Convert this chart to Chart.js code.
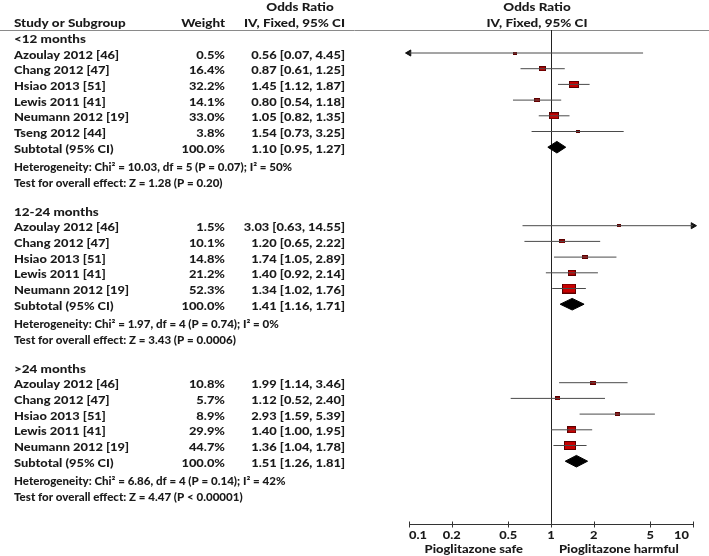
<!DOCTYPE html>
<html lang="en">
<head>
<meta charset="UTF-8">
<title>Pioglitazone forest plot</title>
<script src="https://cdn.jsdelivr.net/npm/chart.js@4"></script>
<style>
  html, body { margin: 0; padding: 0; background: #fff; }
  #wrap { width: 709px; height: 556px; }
</style>
</head>
<body>
<div id="wrap"><canvas id="forest" width="709" height="556"></canvas></div>
<script>
// Sous-groupes (durée d'exposition)
const groupNames = ['<12 months', '12-24 months', '>24 months'];
const groupSizes = [6, 5, 5];

// Études, dans l'ordre des sous-groupes
const studyLabels = [
  'Azoulay 2012 [46]', 'Chang 2012 [47]', 'Hsiao 2013 [51]', 'Lewis 2011 [41]', 'Neumann 2012 [19]', 'Tseng 2012 [44]',
  'Azoulay 2012 [46]', 'Chang 2012 [47]', 'Hsiao 2013 [51]', 'Lewis 2011 [41]', 'Neumann 2012 [19]',
  'Azoulay 2012 [46]', 'Chang 2012 [47]', 'Hsiao 2013 [51]', 'Lewis 2011 [41]', 'Neumann 2012 [19]'
];
const studyWeight = [0.5, 16.4, 32.2, 14.1, 33.0, 3.8, 1.5, 10.1, 14.8, 21.2, 52.3, 10.8, 5.7, 8.9, 29.9, 44.7];
const studyOR   = [0.56, 0.87, 1.45, 0.80, 1.05, 1.54, 3.03, 1.20, 1.74, 1.40, 1.34, 1.99, 1.12, 2.93, 1.40, 1.36];
const studyLow  = [0.07, 0.61, 1.12, 0.54, 0.82, 0.73, 0.63, 0.65, 1.05, 0.92, 1.02, 1.14, 0.52, 1.59, 1.00, 1.04];
const studyHigh = [4.45, 1.25, 1.87, 1.18, 1.35, 3.25, 14.55, 2.22, 2.89, 2.14, 1.76, 3.46, 2.40, 5.39, 1.95, 1.78];

// Sous-totaux
const subtotalOR   = [1.10, 1.41, 1.51];
const subtotalLow  = [0.95, 1.16, 1.26];
const subtotalHigh = [1.27, 1.71, 1.81];
const heterogeneity = [
  'Chi² = 10.03, df = 5 (P = 0.07); I² = 50%',
  'Chi² = 1.97, df = 4 (P = 0.74); I² = 0%',
  'Chi² = 6.86, df = 4 (P = 0.14); I² = 42%'
];
const overallEffect = ['Z = 1.28 (P = 0.20)', 'Z = 3.43 (P = 0.0006)', 'Z = 4.47 (P < 0.00001)'];

// Axe
const xTicks = [0.1, 0.2, 0.5, 1, 2, 5, 10];
const xTickLabels = ['0.1', '0.2', '0.5', '1', '2', '5', '10'];
const favoursLeft = 'Pioglitazone safe';
const favoursRight = 'Pioglitazone harmful';

const FONT = '"Lato", "DejaVu Sans", sans-serif';
const WEIGHT = '900';
const TEXT = '#1a1a1a';
const STRETCH = 1.17; // le texte de la figure d'origine est étiré en largeur
const xMin = xTicks[0];
const xMax = xTicks[xTicks.length - 1];

// Calcul des lignes (une unité = une ligne du tableau)
const rows = [];
let r = -1;
let s = 0;
groupNames.forEach((name, g) => {
  rows.push({ kind: 'group', row: r, text: name });
  for (let i = 0; i < groupSizes[g]; i++) {
    r += 1;
    rows.push({ kind: 'study', row: r, idx: s });
    s += 1;
  }
  r += 1;
  rows.push({ kind: 'subtotal', row: r, g });
  rows.push({ kind: 'het', row: r + 1.2, g });
  rows.push({ kind: 'test', row: r + 2.2, g });
  r += 4;
});

const studyRows = rows.filter((o) => o.kind === 'study');
const subtotalRows = rows.filter((o) => o.kind === 'subtotal');

// Intervalles de confiance (segments séparés par des trous)
const ciData = [];
studyRows.forEach((o) => {
  ciData.push({ x: studyLow[o.idx], y: o.row });
  ciData.push({ x: studyHigh[o.idx], y: o.row });
  ciData.push({ x: null, y: null });
});

const squareData = studyRows.map((o) => ({ x: studyOR[o.idx], y: o.row, w: studyWeight[o.idx] }));

// Flèches quand l'intervalle dépasse l'axe
const arrowData = [];
studyRows.forEach((o) => {
  if (studyLow[o.idx] < xMin) arrowData.push({ x: xMin, y: o.row, dir: -1 });
  if (studyHigh[o.idx] > xMax) arrowData.push({ x: xMax, y: o.row, dir: 1 });
});

const squareCache = {};
function squareStyle(weight) {
  const w = Math.round(3.5 + 0.2 * weight);
  const h = Math.max(3, Math.round(w / 1.35));
  const key = w + 'x' + h;
  if (!squareCache[key]) {
    const c = document.createElement('canvas');
    c.width = w;
    c.height = h;
    const cx = c.getContext('2d');
    cx.fillStyle = '#5a0000';
    cx.fillRect(0, 0, w, h);
    cx.fillStyle = '#c80000';
    cx.fillRect(1, 1, w - 2, h - 2);
    squareCache[key] = c;
  }
  return squareCache[key];
}

const diamondSets = subtotalRows.map((o) => ({
  type: 'line',
  data: [
    { x: subtotalLow[o.g], y: o.row },
    { x: subtotalOR[o.g], y: o.row - 0.37 },
    { x: subtotalHigh[o.g], y: o.row },
    { x: subtotalOR[o.g], y: o.row + 0.37 },
    { x: subtotalLow[o.g], y: o.row }
  ],
  borderColor: '#000',
  backgroundColor: '#000',
  borderWidth: 1,
  fill: 'shape',
  pointRadius: 0,
  tension: 0
}));

function text(ctx, str, x, y, align, sx) {
  ctx.save();
  ctx.translate(x, y);
  ctx.scale(sx || STRETCH, 1);
  ctx.textAlign = align;
  ctx.fillText(str, 0, 0);
  ctx.restore();
}

const tablePlugin = {
  id: 'table',
  beforeDatasetsDraw(chart) {
    const { ctx, chartArea } = chart;
    const xs = chart.scales.x;
    const x1 = Math.round(xs.getPixelForValue(1)) + 0.5;
    ctx.save();
    ctx.strokeStyle = '#8a8a8a';
    ctx.lineWidth = 1;
    ctx.beginPath();
    ctx.moveTo(0, chartArea.top + 0.5);
    ctx.lineTo(chart.width, chartArea.top + 0.5);
    ctx.stroke();
    ctx.strokeStyle = '#222';
    ctx.beginPath();
    ctx.moveTo(x1, chartArea.top);
    ctx.lineTo(x1, chartArea.bottom);
    ctx.stroke();
    ctx.restore();
  },
  afterDraw(chart) {
    const { ctx, chartArea } = chart;
    const xs = chart.scales.x;
    const ys = chart.scales.y;
    ctx.save();
    ctx.fillStyle = TEXT;
    ctx.textBaseline = 'middle';

    // En-têtes
    ctx.font = WEIGHT + ' 11.5px ' + FONT;
    text(ctx, 'Odds Ratio', 300, 7, 'center');
    text(ctx, 'Odds Ratio', 537, 7, 'center');
    text(ctx, 'IV, Fixed, 95% CI', 537, 23, 'center');
    text(ctx, 'Study or Subgroup', 14, 23, 'left');
    text(ctx, 'Weight', 225, 23, 'right');
    text(ctx, 'IV, Fixed, 95% CI', 345, 23, 'right');

    const body = WEIGHT + ' 11px ' + FONT;
    const small = WEIGHT + ' 10.5px ' + FONT;
    rows.forEach((o) => {
      const py = ys.getPixelForValue(o.row) + 2;
      ctx.font = body;
      if (o.kind === 'group') {
        ctx.font = WEIGHT + ' 11.5px ' + FONT;
        text(ctx, o.text, 14, py, 'left');
      } else if (o.kind === 'study') {
        const i = o.idx;
        text(ctx, studyLabels[i], 14, py, 'left');
        text(ctx, studyWeight[i].toFixed(1) + '%', 225, py, 'right');
        text(ctx, studyOR[i].toFixed(2) + ' [' + studyLow[i].toFixed(2) + ', ' + studyHigh[i].toFixed(2) + ']', 345, py, 'right');
      } else if (o.kind === 'subtotal') {
        const g = o.g;
        text(ctx, 'Subtotal (95% CI)', 14, py, 'left');
        text(ctx, '100.0%', 225, py, 'right');
        text(ctx, subtotalOR[g].toFixed(2) + ' [' + subtotalLow[g].toFixed(2) + ', ' + subtotalHigh[g].toFixed(2) + ']', 345, py, 'right');
      } else if (o.kind === 'het') {
        ctx.font = small;
        text(ctx, 'Heterogeneity: ' + heterogeneity[o.g], 14, py, 'left', 1.1);
      } else if (o.kind === 'test') {
        ctx.font = small;
        text(ctx, 'Test for overall effect: ' + overallEffect[o.g], 14, py, 'left', 1.1);
      }
    });

    // Axe des x
    const ay = chartArea.bottom + 0.5;
    ctx.strokeStyle = '#333';
    ctx.lineWidth = 1;
    ctx.beginPath();
    ctx.moveTo(xs.getPixelForValue(xMin), ay);
    ctx.lineTo(xs.getPixelForValue(xMax), ay);
    xTicks.forEach((t) => {
      const px = Math.round(xs.getPixelForValue(t)) + 0.5;
      ctx.moveTo(px, ay - 3);
      ctx.lineTo(px, ay + 3);
    });
    ctx.stroke();

    ctx.font = WEIGHT + ' 11px ' + FONT;
    xTicks.forEach((t, i) => {
      const px = xs.getPixelForValue(t);
      const align = i === 0 ? 'left' : (i === xTicks.length - 1 ? 'right' : 'center');
      const dx = i === xTicks.length - 1 ? -4 : 0;
      text(ctx, xTickLabels[i], px + dx, ay + 11, align);
    });
    ctx.font = WEIGHT + ' 12px ' + FONT;
    const p1 = xs.getPixelForValue(1);
    text(ctx, favoursLeft, p1 - 28, ay + 25, 'right', 1.08);
    text(ctx, favoursRight, p1 + 8, ay + 25, 'left', 1.08);
    ctx.restore();
  }
};

new Chart(document.getElementById('forest'), {
  type: 'scatter',
  data: {
    datasets: [
      {
        type: 'line',
        data: ciData,
        borderColor: '#4a4a4a',
        borderWidth: 1,
        pointRadius: 0,
        spanGaps: false,
        tension: 0,
        fill: false
      },
      {
        data: arrowData,
        pointStyle: 'triangle',
        pointRadius: 3.5,
        rotation: (c) => (c.raw && c.raw.dir < 0 ? -90 : 90),
        backgroundColor: '#111',
        borderColor: '#111',
        borderWidth: 1,
        clip: false
      },
      ...diamondSets,
      {
        data: squareData,
        pointStyle: (c) => squareStyle(c.raw ? c.raw.w : 10),
        pointRadius: 5
      }
    ]
  },
  options: {
    responsive: false,
    animation: false,
    devicePixelRatio: 1,
    layout: { padding: { left: 409, right: 16, top: 30, bottom: 32 } },
    plugins: { legend: { display: false }, tooltip: { enabled: false } },
    scales: {
      x: { type: 'logarithmic', min: xMin, max: xMax, display: false },
      y: { type: 'linear', min: -1.465, max: 30, reverse: true, display: false }
    }
  },
  plugins: [tablePlugin]
});
</script>
</body>
</html>
